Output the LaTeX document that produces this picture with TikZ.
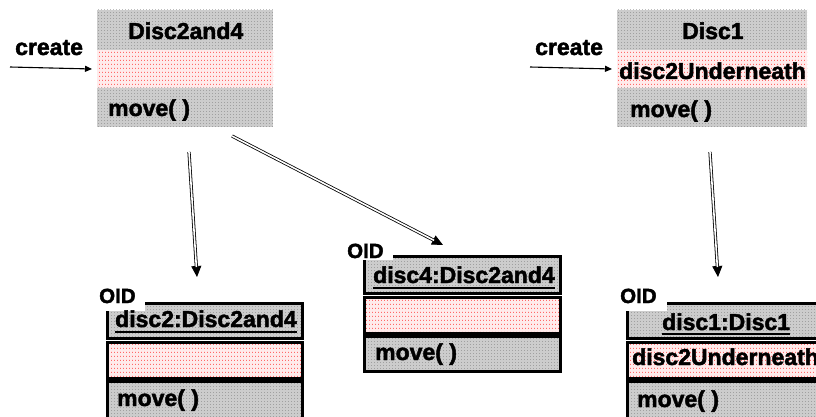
\documentclass[tikz,border=0pt]{standalone}
\usepackage{fontspec}
\setmainfont{Liberation Sans}[BoldFeatures={FakeBold=2}]
\usetikzlibrary{arrows.meta,patterns.meta}

% stipple textures for the compartments
\tikzdeclarepattern{
  name=greystipple, type=uncolored,
  bounding box={(0pt,0pt) and (2.5pt,2.5pt)},
  tile size={(2.5pt,2.5pt)},
  code={\fill (0pt,0pt) rectangle (0.7pt,0.7pt);}
}
\tikzdeclarepattern{
  name=pinkdots, type=uncolored,
  bounding box={(0pt,0pt) and (3pt,4pt)},
  tile size={(3pt,4pt)},
  code={\fill (0pt,0pt) rectangle (0.9pt,1.5pt);}
}

\tikzset{
  lbl/.style={font=\bfseries\fontsize{23}{27}\selectfont, inner sep=0pt, anchor=base west},
  oidlbl/.style={font=\bfseries\fontsize{20.5}{24}\selectfont, inner sep=0pt, anchor=base west},
  grey/.style={fill=black!20, postaction={pattern=greystipple, pattern color=black!60}},
  pink/.style={fill=red!8, postaction={pattern=pinkdots, pattern color=red!85}},
  comp/.style={rectangle, inner sep=0pt, outer sep=0pt, anchor=north west},
  objborder/.style={draw=black, line width=3pt},
  uline/.style={line width=2pt},
  createarrow/.style={line width=1.1pt, -{Triangle[length=7pt,width=6pt]}},
  headpart/.style={line width=0.8pt, -{Triangle[length=11pt,width=10pt]}},
  shaftpart/.style={line width=0.8pt, double=white, double distance=1.6pt, shorten >=10pt},
}

\begin{document}
\begin{tikzpicture}[x=1pt,y=-1pt]
\useasboundingbox (0,0) rectangle (816,417);
\clip (0,0) rectangle (816,417);

% ---- class Disc2and4 ----
\node[comp, grey, minimum width=176pt, minimum height=40pt] (c24name) at (97,10) {};
\node[comp, pink, minimum width=176pt, minimum height=38pt] (c24attr) at (97,50) {};
\node[comp, grey, minimum width=176pt, minimum height=39pt] (c24ops) at (97,88) {};
\node[lbl] (c24t) at (128,39) {Disc2and4};
\node[lbl] (c24m) at (108,116) {move( )};

% ---- class Disc1 ----
\node[comp, grey, minimum width=190pt, minimum height=40pt] (c1name) at (617,10) {};
\node[comp, pink, minimum width=190pt, minimum height=38pt] (c1attr) at (617,50) {};
\node[comp, grey, minimum width=190pt, minimum height=39pt] (c1ops) at (617,88) {};
\node[lbl] (c1t) at (682,39) {Disc1};
\node[lbl] (c1a) at (619,79) {disc2Underneath};
\node[lbl] (c1m) at (630,117) {move( )};

% ---- create messages ----
\node[lbl] (cr1) at (15,55) {create};
\coordinate (cr1s) at (10,67);
\draw[createarrow] (cr1s) -- ([xshift=-5pt]c24attr.west);
\node[lbl] (cr2) at (535,55) {create};
\coordinate (cr2s) at (530,67);
\draw[createarrow] (cr2s) -- ([xshift=-5pt]c1attr.west);

% ---- object disc2 ----
\node[comp, grey, minimum width=195pt, minimum height=35pt] (o2name) at (107,303) {};
\node[comp, pink, minimum width=195pt, minimum height=36pt] (o2attr) at (107,342) {};
\node[comp, grey, minimum width=195pt, minimum height=50pt] (o2ops) at (107,381) {};
\foreach \n in {o2name,o2attr,o2ops}
  \draw[objborder] (\n.north west) rectangle (\n.south east);
\fill[white] (94,283) rectangle (145,311);
\node[oidlbl] (o2id) at (99,303) {OID};
\node[lbl] (o2t) at (115,327) {disc2:Disc2and4};
\draw[uline] ([yshift=-5pt]o2t.base west) -- ([yshift=-5pt]o2t.base east);
\node[lbl] (o2m) at (117,406) {move( )};

% ---- object disc4 ----
\node[comp, grey, minimum width=196pt, minimum height=37pt] (o4name) at (364,256) {};
\node[comp, pink, minimum width=196pt, minimum height=36pt] (o4attr) at (364,297) {};
\node[comp, grey, minimum width=196pt, minimum height=35pt] (o4ops) at (364,336) {};
\foreach \n in {o4name,o4attr,o4ops}
  \draw[objborder] (\n.north west) rectangle (\n.south east);
\fill[white] (342,238) rectangle (393,260);
\node[oidlbl] (o4id) at (347,258) {OID};
\node[lbl] (o4t) at (373,283) {disc4:Disc2and4};
\draw[uline] ([yshift=-5pt]o4t.base west) -- ([yshift=-5pt]o4t.base east);
\node[lbl] (o4m) at (375,360) {move( )};

% ---- object disc1 ----
\node[comp, grey, minimum width=220pt, minimum height=35pt] (o1name) at (627,303) {};
\node[comp, pink, minimum width=220pt, minimum height=36pt] (o1attr) at (627,342) {};
\node[comp, grey, minimum width=220pt, minimum height=50pt] (o1ops) at (627,381) {};
\foreach \n in {o1name,o1attr,o1ops}
  \draw[objborder] (\n.north west) rectangle (\n.south east);
\fill[white] (615,283) rectangle (667,311);
\node[oidlbl] (o1id) at (620,303) {OID};
\node[lbl] (o1t) at (662,330) {disc1:Disc1};
\draw[uline] ([yshift=-4pt]o1t.base west) -- ([yshift=-4pt]o1t.base east);
\node[lbl] (o1a) at (632,365) {disc2Underneath};
\node[lbl] (o1m) at (637,407) {move( )};

% ---- instantiation arrows ----
\coordinate (a1s) at (189,152);
\coordinate (a1e) at (197,277);
\coordinate (a2s) at (232,136);
\coordinate (a2e) at (443,245);
\coordinate (a3s) at (710,152);
\coordinate (a3e) at (718,277);
\foreach \s/\e in {a1s/a1e, a2s/a2e, a3s/a3e}{
  \draw[headpart] (\s) -- (\e);
  \draw[shaftpart] (\s) -- (\e);
}
\end{tikzpicture}
\end{document}
